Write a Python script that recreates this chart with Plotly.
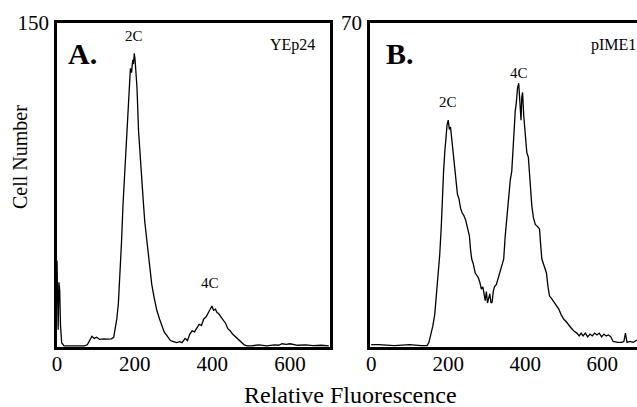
import plotly.graph_objects as go

# Panel A (YEp24): relative fluorescence vs cell number
a_x = [0, 1, 3, 5, 7, 9, 12, 18, 30, 50, 70, 78, 84, 90, 96, 102, 110, 120, 130, 140,
       146, 150, 154, 158, 162, 166, 170, 174, 178, 182, 186, 189, 192, 195, 197, 199,
       201, 203, 206, 210, 214, 218, 222, 226, 231, 236, 240, 244, 250, 257, 264, 270,
       276, 284, 292, 300, 308, 316, 322, 330, 336, 342, 348, 354, 360, 366, 372, 378,
       384, 390, 395, 399, 403, 408, 412, 416, 422, 428, 434, 440, 446, 452, 458, 464,
       470, 476, 482, 490, 500, 520, 540, 560, 570, 580, 590, 600, 610, 620, 640, 660,
       680, 700]
a_y = [40, 15, 8, 30, 26, 10, 2, 0.5, 0.5, 0.8, 0.5, 1, 3, 5, 4, 4.5, 3.5, 3.8, 3.6, 3.8,
       4.5, 8, 13, 20, 32, 48, 66, 80, 96, 110, 124, 129, 127, 133, 131, 136,
       133, 129, 120, 100, 88, 78, 68, 58, 49, 40, 34, 29, 23, 17, 13, 10,
       7, 5, 3, 2.5, 2, 2.5, 2, 4, 3, 6, 7.5, 7, 9, 10.5, 10, 13,
       14, 16, 17.5, 19, 17, 17.5, 16, 15.5, 14, 12.5, 11, 8.5, 7.5, 6, 5, 4,
       3, 2, 1, 0.5, 0.5, 1, 0.5, 1, 0.8, 1.5, 1.2, 1.5, 1, 0.8, 1, 0.6,
       0.8, 0.5]

# Panel B (pIME1)
b_x = [0, 20, 60, 100, 130, 145, 150, 155, 160, 165, 170, 174, 178, 182, 185, 188, 191,
       194, 197, 200, 203, 206, 209, 212, 216, 220, 224, 228, 232, 236, 240, 245, 250,
       255, 258, 261, 265, 270, 274, 278, 282, 286, 290, 293, 296, 299, 302, 305, 308,
       311, 314, 317, 320, 325, 330, 335, 340, 344, 348, 352, 357, 361, 365, 368, 371,
       374, 377, 380, 383, 386, 389, 391, 393, 396, 400, 404, 408, 412, 417, 421, 426,
       432, 437, 440, 443, 449, 455, 459, 463, 468, 474, 480, 487, 493, 500, 506, 513,
       520, 527, 534, 540, 545, 550, 556, 562, 568, 574, 580, 586, 592, 598, 604, 610,
       616, 622, 628, 640, 650, 656, 660, 664, 672, 680, 690]
b_y = [0.5, 0.5, 0.3, 0.5, 0.3, 0.3, 1, 2.5, 4.5, 7, 12, 16, 20, 26, 33, 38, 42,
       46, 48, 49, 47, 47.5, 45, 43, 40, 36, 33, 32, 30, 29, 28.5, 27.5, 26,
       24, 21, 19, 18, 16, 15.5, 15, 14, 12.5, 13, 11, 10, 12, 9.5, 10.5, 11.5,
       9.5, 9.7, 12, 13, 13.5, 15, 16, 18, 19, 24, 28, 33, 36, 38, 43, 47,
       51, 53, 56, 57, 52, 49, 54, 55, 50, 45, 42, 41, 36, 30.5, 28, 26.5,
       26, 25.5, 22, 19, 17.5, 16, 13, 11, 10.5, 9.7, 9, 8.2, 7, 6, 5.5, 4.6,
       4, 3.4, 3, 2.4, 3, 2.4, 3, 2.2, 2.8, 2.4, 3, 2.6, 3, 2.2, 2.8, 2.4,
       2.6, 2.2, 1.2, 1, 1, 1.2, 3, 1, 1.2, 1, 1.5]

x_ticks = [0, 200, 400, 600]
a_ymax = 150
b_ymax = 70

W, H = 637, 407
FONT = "Liberation Serif"


def px(x):
    return x / W


def py(y):
    return 1 - y / H


fig = go.Figure()
fig.add_trace(go.Scatter(x=a_x, y=a_y, mode="lines", line=dict(color="black", width=1.3),
                         xaxis="x", yaxis="y", showlegend=False, hoverinfo="skip"))
fig.add_trace(go.Scatter(x=b_x, y=b_y, mode="lines", line=dict(color="black", width=1.3),
                         xaxis="x2", yaxis="y2", showlegend=False, hoverinfo="skip"))

ydom = [py(347), py(23)]
common_x = dict(showgrid=False, zeroline=False, showline=True, linecolor="black",
                linewidth=2.5, ticks="", tickvals=x_ticks, automargin=False,
                ticklabelstandoff=-4,
                tickfont=dict(family=FONT, size=21, color="black"))
common_y = dict(showgrid=False, zeroline=False, showline=True, linecolor="black",
                linewidth=2.5, ticks="", automargin=False, ticklabelstandoff=1,
                tickfont=dict(family=FONT, size=21, color="black"))

fig.update_layout(
    width=W, height=H, autosize=False,
    margin=dict(l=0, r=0, t=0, b=0, pad=0),
    paper_bgcolor="white", plot_bgcolor="white",
    xaxis=dict(domain=[px(57), px(330)], range=[0, 703], anchor="y", mirror=True,
               **common_x),
    yaxis=dict(domain=ydom, range=[0, a_ymax], anchor="x", mirror=True,
               tickvals=[a_ymax], **common_y),
    xaxis2=dict(domain=[px(370), 1.0], range=[-3, 690], anchor="y2", mirror=True,
                **common_x),
    yaxis2=dict(domain=ydom, range=[0, b_ymax], anchor="x2", mirror=False,
                tickvals=[b_ymax], **common_y),
)

ann = [
    dict(text="<b>A.</b>", x=px(82), y=py(53), size=30),
    dict(text="<b>B.</b>", x=px(400), y=py(53), size=30),
    dict(text="YEp24", x=px(292), y=py(45), size=16),
    dict(text="pIME1", x=px(613), y=py(45), size=16),
    dict(text="2C", x=px(134), y=py(36), size=15),
    dict(text="4C", x=px(210), y=py(283), size=15),
    dict(text="2C", x=px(448), y=py(102), size=15),
    dict(text="4C", x=px(519), y=py(73), size=15),
    dict(text="Relative Fluorescence", x=px(351), y=py(395), size=24),
]
for a in ann:
    fig.add_annotation(text=a["text"], x=a["x"], y=a["y"], xref="paper", yref="paper",
                       showarrow=False, xanchor="center", yanchor="middle",
                       font=dict(family=FONT, size=a["size"], color="black"))
fig.add_annotation(text="Cell Number", x=px(20), y=py(157), xref="paper", yref="paper",
                   showarrow=False, textangle=-90, xanchor="center", yanchor="middle",
                   font=dict(family=FONT, size=20, color="black"))

fig.write_html("out.html",
               config={"displayModeBar": False},
               post_script="document.body.style.margin='0px';"
                           "document.body.style.padding='0px';"
                           "document.documentElement.style.overflow='hidden';")
